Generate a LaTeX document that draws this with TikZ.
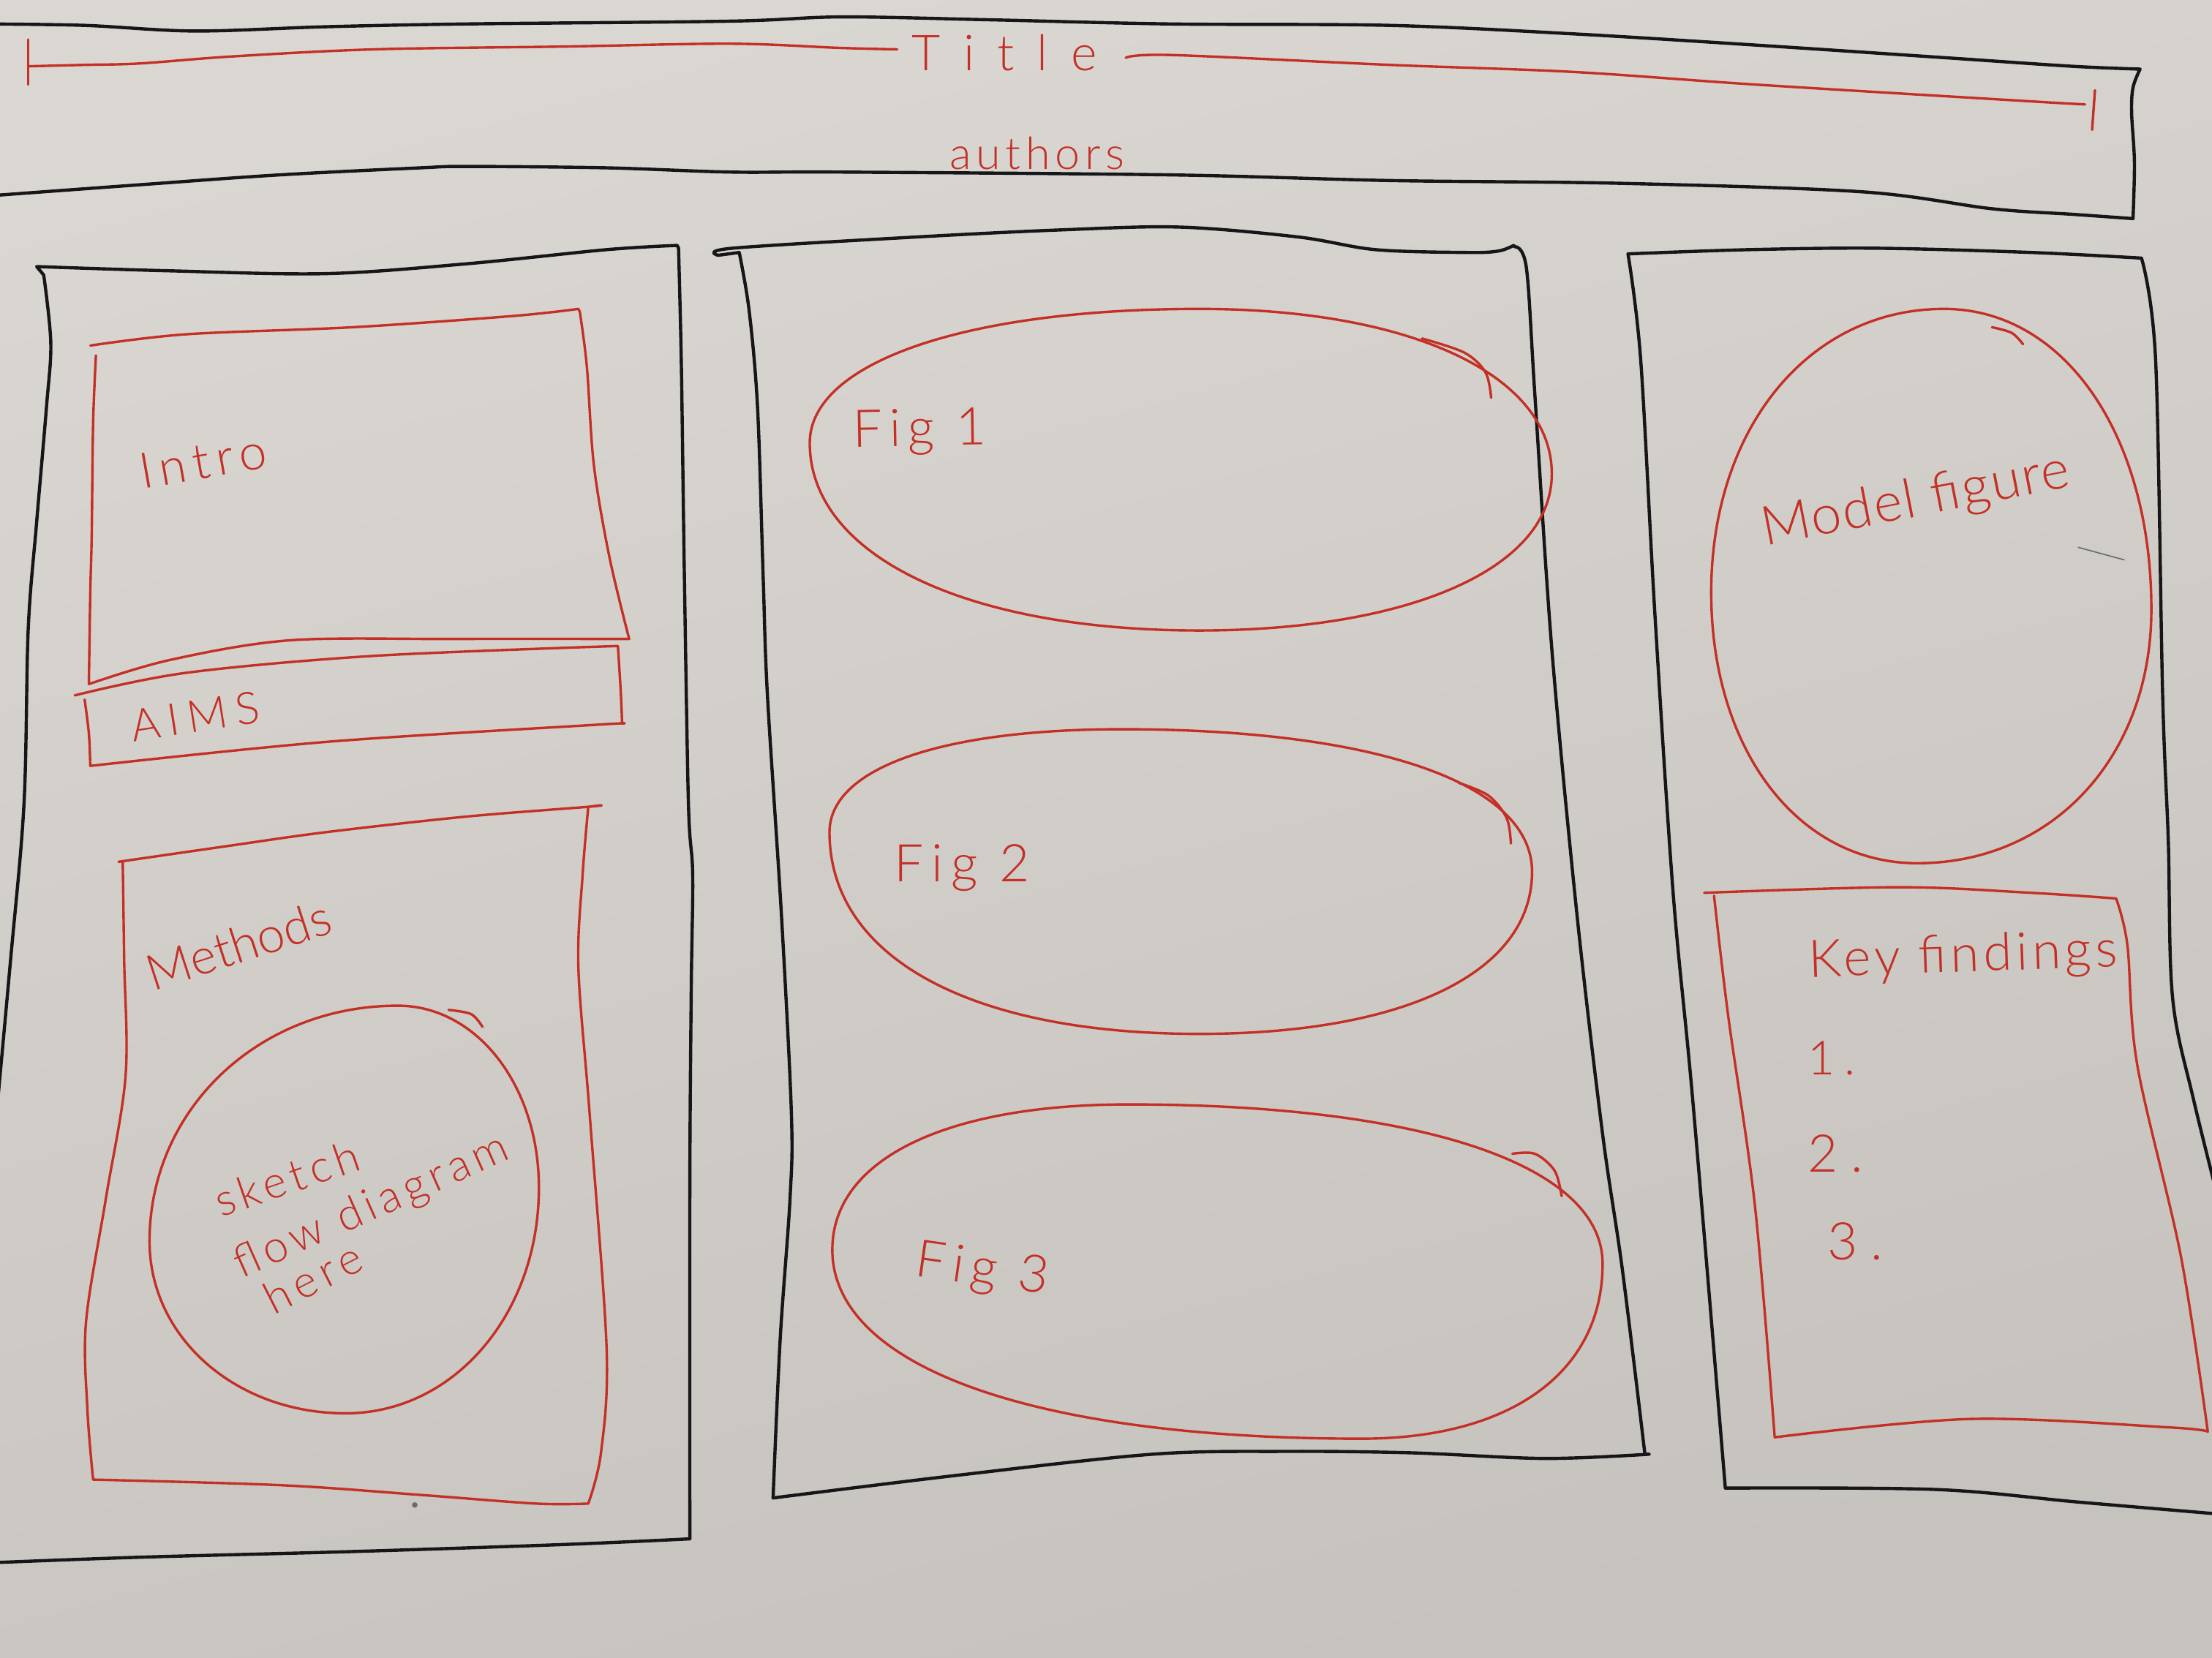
\documentclass[tikz,border=0pt]{standalone}
\usepackage{fontspec}
\setmainfont{Lato}[UprightFont={* Light}]
\definecolor{inkred}{RGB}{196,48,38}
\definecolor{inkblack}{RGB}{22,22,24}
\definecolor{paperlight}{RGB}{218,215,211}
\definecolor{paperdark}{RGB}{198,194,189}
\definecolor{pencil}{RGB}{110,110,110}
% hand-lettering size and letter spacing
\newcommand\handset[2]{\fontsize{#1}{#1}\selectfont\addfontfeature{LetterSpace=#2}}
% closed egg through top, right, bottom and left points; #9 sets how square it is
\newcommand\eggpath[9]{%
  (#1,#2) .. controls ({#1+#9*(#3-#1)},#2) and (#3,{#4-#9*(#4-#2)}) .. (#3,#4)
  .. controls (#3,{#4+#9*(#6-#4)}) and ({#5+#9*(#3-#5)},#6) .. (#5,#6)
  .. controls ({#5-#9*(#5-#7)},#6) and (#7,{#8+#9*(#6-#8)}) .. (#7,#8)
  .. controls (#7,{#8-#9*(#8-#2)}) and ({#1-#9*(#1-#7)},#2) .. (#1,#2) -- cycle}

\begin{document}
\begin{tikzpicture}[x=0.02cm,y=-0.02cm,
  ink/.style={draw=inkblack,line width=1.3pt,line cap=round,line join=round},
  pen/.style={draw=inkred,line width=1.0pt,line cap=round,line join=round},
  lbl/.style={text=inkred,inner sep=0pt,anchor=base},
  smooth/.append style={tension=0.55}]

% paper
\useasboundingbox (0,0) rectangle (1568,1175);
\shade[top color=paperlight,bottom color=paperdark,shading angle=15] (0,0) rectangle (1568,1175);

% ---------------- title band ----------------
\draw[ink] plot[smooth] coordinates {(-10,17) (60,18) (138,22) (230,19) (330,17) (518,15) (596,12) (700,14) (830,17) (985,18) (1115,24) (1245,32) (1380,41) (1469,47) (1517,49)}
  -- plot[smooth] coordinates {(1517,49) (1512,62) (1511,80) (1513,115) (1512,155)}
  -- plot[smooth] coordinates {(1512,155) (1470,152) (1412,148) (1320,136) (1150,130) (985,128) (830,124) (596,122) (518,122) (430,119) (331,118) (298,119) (198,124) (99,131) (-10,139)};

\draw[pen] (20,28) -- (20,60);
\draw[pen] plot[smooth] coordinates {(20,47) (60,46) (99,45) (165,40) (265,35) (400,33) (518,31) (596,34) (636,35)};
\draw[pen] plot[smooth] coordinates {(798,41) (830,39) (985,46) (1115,51) (1245,60) (1442,72) (1478,74)};
\draw[pen] (1485,64) -- (1483,92);

\node[lbl] (title) at (712,50) {\handset{20pt}{46}Title};
\node[lbl] (authors) at (735,120) {\handset{18pt}{11}authors};

% ---------------- left column ----------------
\draw[ink] plot[smooth] coordinates {(-8,850) (7,686) (17,570) (20,446) (26,370) (33,288) (36,243) (31,195)}
  -- plot[smooth] coordinates {(26,189) (120,192) (231,194) (331,187) (430,177) (480,174)}
  -- plot[smooth] coordinates {(481,176) (483,260) (485,400) (488,570) (491,620) (490,700) (489,840) (489,1091)}
  -- plot[smooth] coordinates {(489,1091) (400,1095) (250,1100) (100,1104) (-8,1108)};

% Intro box
\draw[pen] plot[smooth] coordinates {(68,252) (66,300) (65,380) (64,420) (63,485)}
  -- plot[smooth] coordinates {(63,485) (120,468) (205,454) (320,453) (446,453)}
  -- plot[smooth] coordinates {(446,453) (432,395) (421,330) (416,260) (411,221)}
  -- plot[smooth] coordinates {(410,219) (364,224) (250,232) (132,237) (64,245)};
\node[lbl,rotate=10] (intro) at (146,339) {\handset{20pt}{14}Intro};

% Aims strip
\draw[pen] plot[smooth] coordinates {(53,493) (132,477) (265,465) (438,458)}
  -- plot[smooth] coordinates {(438,458) (440,490) (441,513)}
  -- plot[smooth] coordinates {(441,513) (420,514) (231,526) (64,543)}
  -- plot[smooth] coordinates {(64,543) (63,520) (60,496)};
\node[lbl,rotate=9] (aims) at (140,519) {\handset{18pt}{18}AIMS};

% Methods box
\draw[pen] plot[smooth] coordinates {(84,611) (160,600) (231,590) (330,579) (417,572) (425,571)}
  -- plot[smooth] coordinates {(417,572) (413,620) (410,686) (418,790) (430,956) (426,1030) (417,1066)}
  -- plot[smooth] coordinates {(417,1066) (380,1066) (300,1060) (200,1053) (66,1049)}
  -- plot[smooth] coordinates {(66,1049) (62,1000) (61,937) (75,850) (89,763) (88,680) (87,611)};
\node[lbl,rotate=18] (methods) at (173,682) {\handset{20pt}{0}Methods};

% flow diagram blob
\draw[pen] \eggpath{282}{713}{382}{842}{245}{1002}{106}{880}{0.56};
\draw[pen] plot[smooth] coordinates {(318,716) (334,719) (342,728)};
\node[lbl,rotate=19] (sketch) at (207,846) {\handset{18pt}{12}sketch};
\node[lbl,rotate=24] (flow) at (267,864) {\handset{18pt}{12}flow diagram};
\node[lbl,rotate=27] (here) at (227,916) {\handset{18pt}{14}here};

\fill[pencil] (294,1067) circle (2);

% ---------------- middle column ----------------
\draw[ink] plot[smooth] coordinates {(548,1062) (553,950) (560,850) (561,790) (554,650) (544,493) (541,410) (537,289) (531,220) (524,179)}
  -- plot[smooth] coordinates {(509,181) (519,176) (650,168) (752,163) (836,161) (920,168) (975,177) (1040,179) (1062,178) (1073,174)}
  -- plot[smooth] coordinates {(1074,175) (1082,190) (1088,280) (1100,460) (1118,650) (1136,804) (1150,900) (1166,1031)}
  -- plot[smooth] coordinates {(1169,1031) (1095,1034) (1000,1030) (910,1029) (817,1031) (678,1046) (548,1062)};

\draw[pen] \eggpath{850}{219}{1100}{336}{850}{447}{574}{314}{0.6};
\draw[pen] plot[smooth] coordinates {(1008,240) (1038,250) (1053,264) (1057,282)};
\node[lbl,rotate=1] (fig1) at (652,316) {\handset{21pt}{14}Fig 1};

\draw[pen] \eggpath{795}{517}{1086}{618}{850}{733}{588}{590}{0.62};
\draw[pen] plot[smooth] coordinates {(1034,555) (1055,564) (1068,580) (1071,598)};
\node[lbl] (fig2) at (682,625) {\handset{21pt}{15}Fig 2};

\draw[pen] \eggpath{800}{783}{1136}{896}{965}{1020}{590}{886}{0.62};
\draw[pen] plot[smooth] coordinates {(1072,818) (1088,818) (1102,830) (1107,848)};
\node[lbl,rotate=-8] (fig3) at (695,911) {\handset{21pt}{14}Fig 3};

% ---------------- right column ----------------
\draw[ink] plot[smooth] coordinates {(1580,1074) (1474,1065) (1372,1056) (1223,1055)}
  -- plot[smooth] coordinates {(1223,1055) (1200,781) (1186,633) (1173,434) (1163,255) (1154,180)}
  -- plot[smooth] coordinates {(1154,180) (1240,177) (1331,176) (1440,179) (1518,183)}
  -- plot[smooth] coordinates {(1518,183) (1528,255) (1533,493) (1537,596) (1540,707) (1555,780) (1580,880)};

\draw[pen] \eggpath{1378}{219}{1525}{432}{1359}{612}{1213}{420}{0.58};
\draw[pen] plot[smooth] coordinates {(1412,232) (1426,236) (1434,244)};
\draw[pencil,line width=0.5pt] (1473,388) -- (1506,397);
\node[lbl,rotate=11] (model) at (1360,366) {\handset{22pt}{3}Model figure};

% Key findings box
\draw[pen] plot[smooth] coordinates {(1208,633) (1346,629) (1440,633) (1500,637)}
  -- plot[smooth] coordinates {(1500,637) (1508,670) (1515,755) (1546,891) (1565,1015)}
  -- plot[smooth] coordinates {(1565,1015) (1538,1012) (1397,1006) (1258,1019)}
  -- plot[smooth] coordinates {(1258,1019) (1244,855) (1225,720) (1215,635)};
\node[lbl,rotate=2] (key) at (1392,689) {\handset{21pt}{8}Key findings};
\node[lbl,anchor=base west] (k1) at (1281,762) {\handset{19pt}{20}1.};
\node[lbl,anchor=base west] (k2) at (1281,831) {\handset{21pt}{25}2.};
\node[lbl,anchor=base west] (k3) at (1295,893) {\handset{21pt}{25}3.};

\end{tikzpicture}
\end{document}
